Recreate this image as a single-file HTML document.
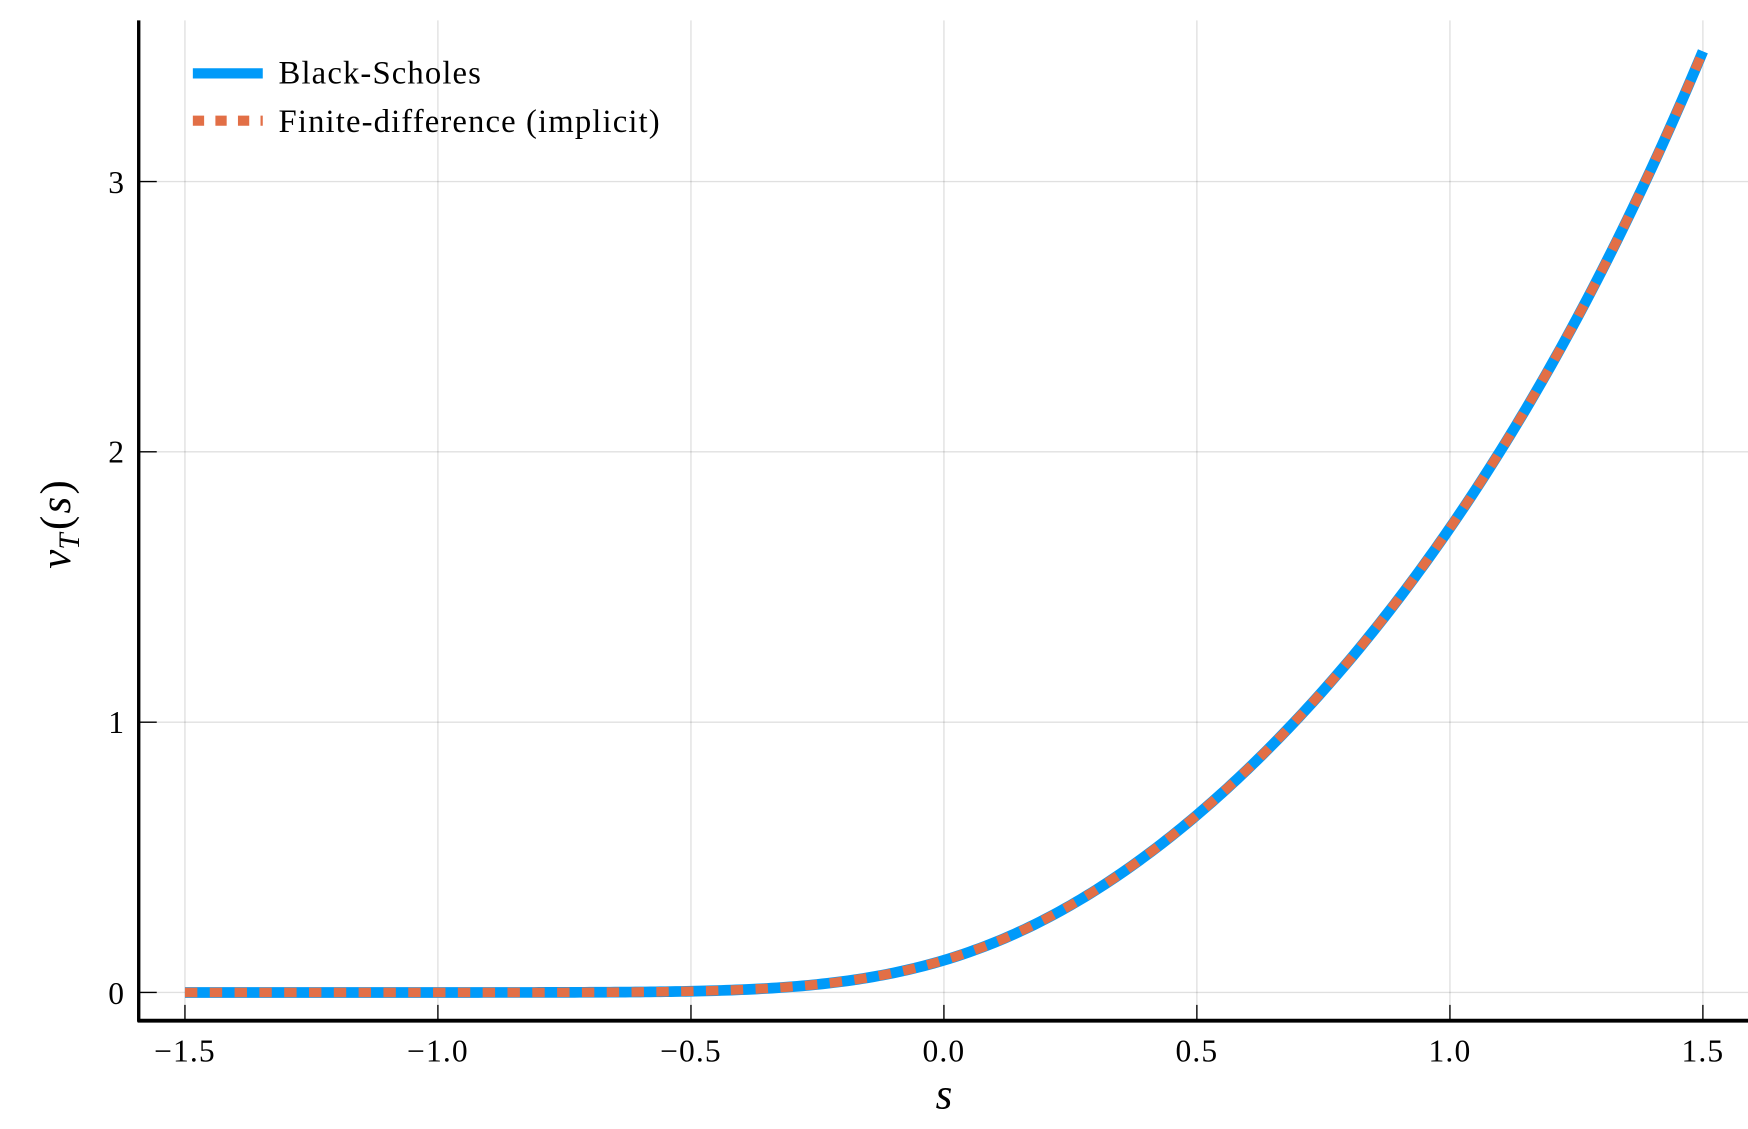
<!DOCTYPE html>
<html><head><meta charset="utf-8"><style>
html,body{margin:0;padding:0;background:#fff;}
svg{display:block;}
text{font-family:"Liberation Serif",serif;fill:#000;}
</style></head><body>
<svg id="s" width="1748" height="1129" viewBox="0 0 1550 1001" xmlns="http://www.w3.org/2000/svg">
<rect width="1550" height="1001" fill="#fff"/>
<g stroke="#000" stroke-opacity="0.12" stroke-width="1.2">
<line x1="164" y1="18" x2="164" y2="905"/>
<line x1="388.3" y1="18" x2="388.3" y2="905"/>
<line x1="612.7" y1="18" x2="612.7" y2="905"/>
<line x1="837" y1="18" x2="837" y2="905"/>
<line x1="1061.3" y1="18" x2="1061.3" y2="905"/>
<line x1="1285.7" y1="18" x2="1285.7" y2="905"/>
<line x1="1510" y1="18" x2="1510" y2="905"/>
<line x1="123" y1="880" x2="1550" y2="880"/>
<line x1="123" y1="640.3" x2="1550" y2="640.3"/>
<line x1="123" y1="400.6" x2="1550" y2="400.6"/>
<line x1="123" y1="160.9" x2="1550" y2="160.9"/>
</g>
<g stroke="#000" stroke-width="1.2">
<line x1="164" y1="905" x2="164" y2="891"/>
<line x1="388.3" y1="905" x2="388.3" y2="891"/>
<line x1="612.7" y1="905" x2="612.7" y2="891"/>
<line x1="837" y1="905" x2="837" y2="891"/>
<line x1="1061.3" y1="905" x2="1061.3" y2="891"/>
<line x1="1285.7" y1="905" x2="1285.7" y2="891"/>
<line x1="1510" y1="905" x2="1510" y2="891"/>
<line x1="123" y1="880" x2="139" y2="880"/>
<line x1="123" y1="640.3" x2="139" y2="640.3"/>
<line x1="123" y1="400.6" x2="139" y2="400.6"/>
<line x1="123" y1="160.9" x2="139" y2="160.9"/>
</g>
<path id="bs" fill="none" stroke="#009af9" stroke-width="9.5"/>
<path id="fd" fill="none" stroke="#e26f46" stroke-width="8.5" stroke-dasharray="11,11"/>
<line x1="123" y1="18" x2="123" y2="906" stroke="#000" stroke-width="3"/>
<line x1="122" y1="905" x2="1550" y2="905" stroke="#000" stroke-width="3.5"/>
<g font-size="28" text-anchor="middle" letter-spacing="1">
<text x="164" y="941">−1.5</text>
<text x="388.3" y="941">−1.0</text>
<text x="612.7" y="941">−0.5</text>
<text x="837" y="941">0.0</text>
<text x="1061.3" y="941">0.5</text>
<text x="1285.7" y="941">1.0</text>
<text x="1510" y="941">1.5</text>
</g>
<g font-size="28" text-anchor="end">
<text x="110" y="890">0</text>
<text x="110" y="650">1</text>
<text x="110" y="410">2</text>
<text x="110" y="171">3</text>
</g>
<text x="837" y="983" font-size="38" font-style="italic" text-anchor="middle">s</text>
<text transform="translate(62,465) rotate(-90)" font-size="38" text-anchor="middle"><tspan font-style="italic">v</tspan><tspan font-style="italic" font-size="26" dy="8">T</tspan><tspan dy="-8" dx="3">(</tspan><tspan font-style="italic" dx="2">s</tspan><tspan dx="2">)</tspan></text>
<line x1="171" y1="65" x2="233" y2="65" stroke="#009af9" stroke-width="9"/>
<line x1="171" y1="107" x2="233" y2="107" stroke="#e26f46" stroke-width="9" stroke-dasharray="10,10"/>
<text x="247" y="74" font-size="29" letter-spacing="1">Black-Scholes</text>
<text x="247" y="117" font-size="29" letter-spacing="1">Finite-difference (implicit)</text>
</svg>
<script>
function erf(x){var s=x<0?-1:1;x=Math.abs(x);var t=1/(1+0.3275911*x);var y=1-(((((1.061405429*t-1.453152027)*t)+1.421413741)*t-0.284496736)*t+0.254829592)*t*Math.exp(-x*x);return s*y;}
function N(x){return 0.5*(1+erf(x/Math.SQRT2));}
var sg=0.3,d="";
for(var i=0;i<=300;i++){var s=-1.5+3*i/300;var S=Math.exp(s);
var d1=(s+sg*sg/2)/sg,d2=d1-sg;var v=S*N(d1)-N(d2);
var X=837+s*448.67,Y=880-v*239.7;d+=(i?"L":"M")+X.toFixed(2)+","+Y.toFixed(2);}
document.getElementById("bs").setAttribute("d",d);
document.getElementById("fd").setAttribute("d",d);
</script>
</body></html>
